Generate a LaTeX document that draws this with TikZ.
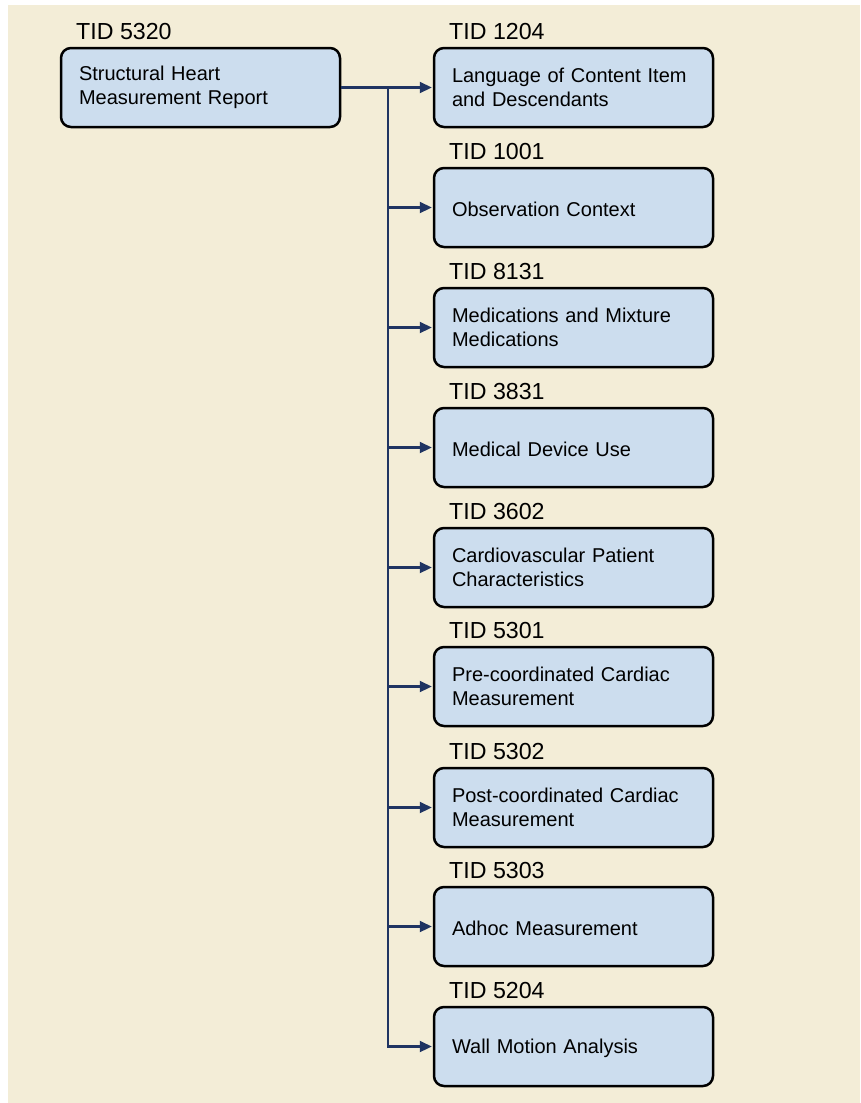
\documentclass[tikz,border=0pt]{standalone}
\usepackage{fontspec}
\setmainfont{Liberation Sans}
\usetikzlibrary{arrows.meta}
\definecolor{bg}{HTML}{F3EDD7}
\definecolor{boxfill}{HTML}{CCDDEE}
\definecolor{linkcol}{HTML}{1F3462}
\begin{document}
\begin{tikzpicture}[x=1pt,y=-1pt,
  tbox/.style={draw=black, line width=2.5pt, fill=boxfill, rounded corners=10pt,
    minimum width=279pt, minimum height=79pt, text width=243pt, align=left,
    inner xsep=18pt, inner ysep=0pt, font=\fontsize{20}{24}\selectfont},
  oneline/.style={execute at begin node={\rule{0pt}{19pt}}},
  tid/.style={anchor=base west, font=\fontsize{23.2}{27}\selectfont, inner sep=0pt},
  link/.style={draw=linkcol, line width=2.2pt, -{Triangle[length=12pt,width=11pt]}, shorten >=1pt}]
\useasboundingbox (0,0) rectangle (860,1103);
\fill[white] (0,0) rectangle (860,1103);
\fill[bg] (8,5) rectangle (860,1103);

\node[tbox] (root) at (200.5,87.5) {Structural Heart\\Measurement Report};
\node[tid] (lroot) at (76,39) {TID 5320};

\node[tbox] (c1) at (573.5,87.5) {Language of Content Item\\and Descendants};
\node[tbox,oneline] (c2) at (573.5,207.5) {Observation Context};
\node[tbox] (c3) at (573.5,327.5) {Medications and Mixture\\Medications};
\node[tbox,oneline] (c4) at (573.5,447.5) {Medical Device Use};
\node[tbox] (c5) at (573.5,567.5) {Cardiovascular Patient\\Characteristics};
\node[tbox] (c6) at (573.5,686.5) {Pre-coordinated Cardiac\\Measurement};
\node[tbox] (c7) at (573.5,807.5) {Post-coordinated Cardiac\\Measurement};
\node[tbox,oneline] (c8) at (573.5,926.5) {Adhoc Measurement};
\node[tbox,oneline] (c9) at (573.5,1046.5) {Wall Motion Analysis};

\node[tid] (l1) at (449,39) {TID 1204};
\node[tid] (l2) at (449,159) {TID 1001};
\node[tid] (l3) at (449,279) {TID 8131};
\node[tid] (l4) at (449,399) {TID 3831};
\node[tid] (l5) at (449,519) {TID 3602};
\node[tid] (l6) at (449,638) {TID 5301};
\node[tid] (l7) at (449,759) {TID 5302};
\node[tid] (l8) at (449,878) {TID 5303};
\node[tid] (l9) at (449,998) {TID 5204};

\coordinate (tr) at (388,87.5);
\draw[link] (root.east) -- (c1.west);
\foreach \i in {2,...,9}{
  \draw[link] (tr) |- (c\i.west);
}
\end{tikzpicture}
\end{document}
